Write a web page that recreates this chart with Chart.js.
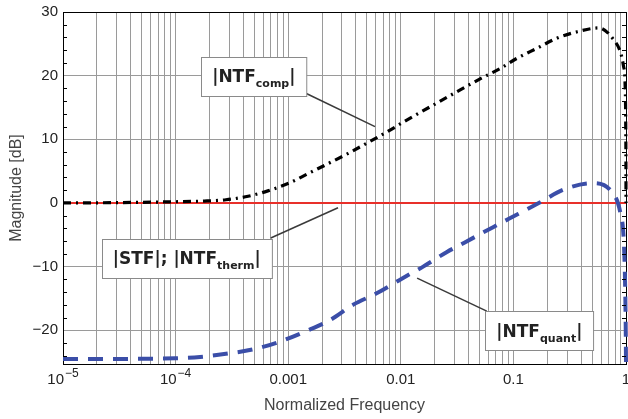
<!DOCTYPE html>
<html>
<head>
<meta charset="utf-8">
<script src="https://cdn.jsdelivr.net/npm/chart.js@4.4.0/dist/chart.umd.min.js"></script>
<style>
    html, body { margin: 0; padding: 0; background: #fff; }
    canvas { display: block; }
</style>
</head>
<body>
<canvas id="graficoMagnitud" width="628" height="419"></canvas>
<script>
// |NTF_comp| (negro, raya-punto)
const freqComp = [1e-5, 3e-5, 7.2e-5, 1.8e-4, 2.8e-4, 4.4e-4, 6.6e-4, 0.00104, 0.0015, 0.00227,
    0.00342, 0.005, 0.0076, 0.011, 0.0224, 0.034, 0.052, 0.076, 0.107, 0.162,
    0.245, 0.37, 0.575, 0.78, 0.9, 0.95, 0.98, 0.995, 0.999, 1];
const magComp = [0, 0.05, 0.15, 0.3, 0.5, 1.05, 1.9, 3.2, 4.6, 6.2,
    7.8, 9.4, 11.2, 12.9, 16.0, 17.8, 19.6, 21.1, 22.7, 24.3,
    25.9, 26.9, 27.5, 25.6, 23.5, 21.5, 19, 12, 5, 0];

// |NTF_quant| (azul, rayas)
const freqQuant = [1e-5, 3e-5, 1e-4, 1.65e-4, 2.8e-4, 4.9e-4, 8.4e-4, 0.00146, 0.00235, 0.00377,
    0.0061, 0.0102, 0.0158, 0.0257, 0.037, 0.066, 0.111, 0.173, 0.279, 0.5,
    0.75, 0.89, 0.953, 0.98, 0.995, 1];
const magQuant = [-24.5, -24.5, -24.4, -24.2, -23.7, -23.0, -21.8, -20.1, -18.4, -16.0,
    -14.2, -11.9, -10.0, -7.7, -6.2, -3.8, -1.7, 0.1, 2.1, 3.1,
    1.7, -1.5, -5.6, -12, -20, -25.3];

// |STF|; |NTF_therm| (rojo, 0 dB)
const freqFlat = [1e-5, 1];
const magFlat = [0, 0];

// Ejes
const xDecadas = [1e-5, 1e-4, 1e-3, 1e-2, 1e-1, 1];
const xEtiquetas = [['10', '\u22125'], ['10', '\u22124'], ['0.001'], ['0.01'], ['0.1'], ['1']];
const xMultiplos = [1, 2, 3, 4, 5, 6, 7, 8, 9];
const yTicks = [-20, -10, 0, 10, 20, 30];
const yEtiquetas = ['\u221220', '\u221210', '0', '10', '20', '30'];
const yMin = -25.3;
const yMax = 30;

const xTickValues = xDecadas.slice(0, -1)
    .flatMap(d => xMultiplos.map(m => m * d))
    .concat([1]);

const toPoints = (xs, ys) => xs.map((x, i) => ({ x: x, y: ys[i] }));

// Etiquetas con recuadro (coordenadas en unidades de datos)
const etiquetas = [
    { partes: [['|NTF', false], ['comp', true], ['|', false]], centro: [4.95e-4, 19.9],
      linea: [[0.00145, 17.2], [0.0059, 12.0]] },
    { partes: [['|STF|; |NTF', false], ['therm', true], ['|', false]], centro: [1.256e-4, -8.7],
      linea: [[7.0e-4, -5.5], [0.00277, -0.75]] },
    { partes: [['|NTF', false], ['quant', true], ['|', false]], centro: [0.170, -20.1],
      linea: [[0.058, -17.0], [0.01396, -11.8]] }
];

const familia = '"Liberation Sans", Arial, sans-serif';
const fuenteNormal = 'bold 17px "DejaVu Sans"';
const fuenteSub = 'bold 11px "DejaVu Sans"';

function dibujarEtiqueta(ctx, x, y, et) {
    const cx = x.getPixelForValue(et.centro[0]);
    const cy = y.getPixelForValue(et.centro[1]);

    // linea guia
    ctx.strokeStyle = '#3a3a3a';
    ctx.lineWidth = 1.5;
    ctx.beginPath();
    ctx.moveTo(x.getPixelForValue(et.linea[0][0]), y.getPixelForValue(et.linea[0][1]));
    ctx.lineTo(x.getPixelForValue(et.linea[1][0]), y.getPixelForValue(et.linea[1][1]));
    ctx.stroke();

    let ancho = 0;
    et.partes.forEach(p => {
        ctx.font = p[1] ? fuenteSub : fuenteNormal;
        ancho += ctx.measureText(p[0]).width;
    });
    const w = ancho + 22;
    const h = 39;
    const left = Math.round(cx - w / 2) + 0.5;
    const top = Math.round(cy - h / 2) + 0.5;

    ctx.fillStyle = '#fff';
    ctx.fillRect(left, top, w, h);
    ctx.strokeStyle = '#8a8a8a';
    ctx.lineWidth = 1;
    ctx.strokeRect(left, top, w, h);

    ctx.fillStyle = '#222';
    ctx.textBaseline = 'alphabetic';
    ctx.textAlign = 'left';
    let px = cx - ancho / 2;
    et.partes.forEach(p => {
        ctx.font = p[1] ? fuenteSub : fuenteNormal;
        ctx.fillText(p[0], px, cy + (p[1] ? 11 : 6));
        px += ctx.measureText(p[0]).width;
    });
}

// potencias de diez con exponente real
function dibujarPotencias(ctx, x, a) {
    ctx.fillStyle = '#222';
    ctx.textBaseline = 'middle';
    ctx.textAlign = 'left';
    xEtiquetas.forEach((e, i) => {
        if (e.length < 2) return;
        ctx.font = '15px ' + familia;
        const wBase = ctx.measureText(e[0]).width;
        ctx.font = '12px ' + familia;
        const wExp = ctx.measureText(e[1]).width;
        const px = x.getPixelForValue(xDecadas[i]) - (wBase + wExp + 1) / 2;
        const py = a.bottom + 16;
        ctx.font = '15px ' + familia;
        ctx.fillText(e[0], px, py);
        ctx.font = '12px ' + familia;
        ctx.fillText(e[1], px + wBase + 1, py - 6);
    });
}

const marcoPlugin = {
    id: 'marco',
    afterDatasetsDraw(chart) {
        const { ctx, chartArea: a, scales: { x, y } } = chart;
        ctx.save();

        // marcas menores hacia dentro, cada 2 dB
        ctx.strokeStyle = '#000';
        ctx.lineWidth = 1;
        ctx.beginPath();
        for (let v = -24; v < yMax; v += 2) {
            if (v % 10 === 0) continue;
            const py = Math.round(y.getPixelForValue(v)) + 0.5;
            ctx.moveTo(a.left, py);
            ctx.lineTo(a.left + 4, py);
            ctx.moveTo(a.right - 4, py);
            ctx.lineTo(a.right, py);
        }
        ctx.stroke();

        etiquetas.forEach(et => dibujarEtiqueta(ctx, x, y, et));
        dibujarPotencias(ctx, x, a);
        ctx.restore();
    }
};

const fuenteTicks = { family: familia, size: 15 };
const fuenteTitulo = { family: familia, size: 16 };

new Chart(document.getElementById('graficoMagnitud'), {
    type: 'line',
    data: {
        datasets: [
            {
                label: '|NTF_quant|',
                data: toPoints(freqQuant, magQuant),
                borderColor: '#3b4ea8',
                borderWidth: 4,
                borderDash: [15, 10],
                pointRadius: 0,
                cubicInterpolationMode: 'monotone',
                fill: false,
                clip: 4
            },
            {
                label: '|NTF_comp|',
                data: toPoints(freqComp, magComp),
                borderColor: '#000',
                borderWidth: 3.2,
                borderDash: [8, 5, 2, 5],
                pointRadius: 0,
                cubicInterpolationMode: 'monotone',
                fill: false,
                clip: 4
            },
            {
                label: '|STF|; |NTF_therm|',
                data: toPoints(freqFlat, magFlat),
                borderColor: '#e8302a',
                borderWidth: 2,
                pointRadius: 0,
                fill: false
            }
        ]
    },
    options: {
        responsive: false,
        devicePixelRatio: 1,
        animation: false,
        layout: { padding: { top: 12, right: 2, left: 0, bottom: 0 } },
        plugins: {
            legend: { display: false },
            tooltip: { enabled: false }
        },
        scales: {
            x: {
                type: 'logarithmic',
                min: 1e-5,
                max: 1,
                afterBuildTicks: s => { s.ticks = xTickValues.map(v => ({ value: v })); },
                afterFit: s => { s.height = 55; s.paddingLeft = 0; s.paddingRight = 0; },
                grid: {
                    color: c => (c.tick && c.tick.value === 1) ? '#000' : '#9a9a9a',
                    lineWidth: 1,
                    drawTicks: false
                },
                border: { color: '#000', width: 1 },
                ticks: {
                    autoSkip: false,
                    maxRotation: 0,
                    padding: 7,
                    color: '#222',
                    font: fuenteTicks,
                    callback: v => {
                        const i = xDecadas.findIndex(d => Math.abs(v - d) / d < 1e-6);
                        return (i >= 0 && xEtiquetas[i].length === 1) ? xEtiquetas[i][0] : '';
                    }
                },
                title: {
                    display: true,
                    text: 'Normalized Frequency',
                    color: '#444',
                    font: fuenteTitulo,
                    padding: { top: 0, bottom: 4 }
                }
            },
            y: {
                min: yMin,
                max: yMax,
                afterBuildTicks: s => { s.ticks = yTicks.map(v => ({ value: v })); },
                afterFit: s => { s.width = 63; s.paddingTop = 0; s.paddingBottom = 0; },
                grid: {
                    color: c => (c.tick && c.tick.value === yMax) ? '#000' : '#9a9a9a',
                    lineWidth: 1,
                    drawTicks: false
                },
                border: { color: '#000', width: 1 },
                ticks: {
                    padding: 5,
                    color: '#222',
                    font: fuenteTicks,
                    callback: v => {
                        const i = yTicks.indexOf(v);
                        return i >= 0 ? yEtiquetas[i] : '';
                    }
                },
                title: {
                    display: true,
                    text: 'Magnitude [dB]',
                    color: '#444',
                    font: fuenteTitulo,
                    padding: { top: 7, bottom: 0 }
                }
            }
        }
    },
    plugins: [marcoPlugin]
});
</script>
</body>
</html>
